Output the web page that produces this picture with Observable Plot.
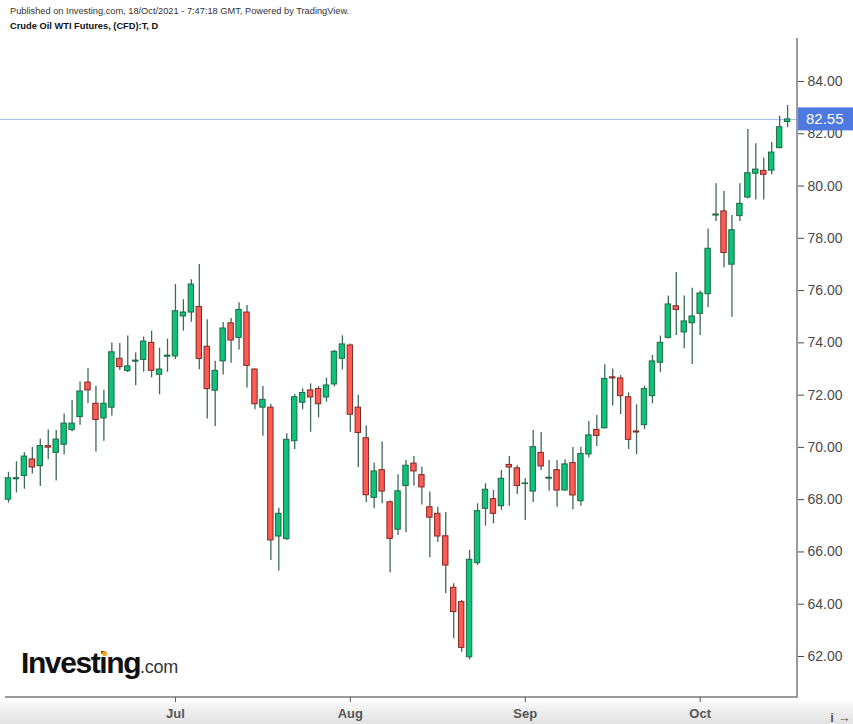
<!DOCTYPE html>
<html>
<head>
<meta charset="utf-8">
<script src="https://cdn.jsdelivr.net/npm/d3@7"></script>
<script src="https://cdn.jsdelivr.net/npm/@observablehq/plot@0.6"></script>
<style>
  html, body { margin: 0; padding: 0; }
  body {
    width: 853px; height: 724px; position: relative; overflow: hidden;
    background: linear-gradient(to bottom, #ffffff 0px, #ffffff 699px, #f3f3f3 706px, #e3e3e3 724px);
    font-family: "Liberation Sans", Arial, sans-serif;
  }
  #head { height: 38px; position: relative; }
  #pub { position: absolute; left: 10px; top: 6px; font-size: 9.25px; color: #333; white-space: nowrap; }
  #ttl { position: absolute; left: 10px; top: 21px; font-size: 9.3px; font-weight: bold; color: #111; white-space: nowrap; }
  #logo { position: absolute; left: 21px; top: 646px; white-space: nowrap; color: #111; }
  #logo .big { font-size: 30px; font-weight: 900; letter-spacing: -1.4px; }
  #logo .small { font-size: 18px; color: #333; letter-spacing: -0.3px; }
  #dot { position: absolute; left: 102px; top: 651px; width: 5px; height: 5px; border-radius: 50%; background: #f7a21b; }
  #chart svg { display: block; background: transparent; }
</style>
</head>
<body>
<div id="head">
  <div id="pub">Published on Investing.com, 18/Oct/2021 - 7:47:18 GMT, Powered by TradingView.</div>
  <div id="ttl">Crude Oil WTI Futures, (CFD):T, D</div>
</div>
<div id="chart"></div>
<div id="logo"><span class="big">Investing</span><span class="small">.com</span></div>
<div id="dot"></div>
<script>
const dates = [
  "2021-06-02","2021-06-03","2021-06-04","2021-06-07","2021-06-08","2021-06-09","2021-06-10","2021-06-11",
  "2021-06-14","2021-06-15","2021-06-16","2021-06-17","2021-06-18","2021-06-21","2021-06-22","2021-06-23",
  "2021-06-24","2021-06-25","2021-06-28","2021-06-29","2021-06-30",
  "2021-07-01","2021-07-02","2021-07-05","2021-07-06","2021-07-07","2021-07-08","2021-07-09","2021-07-12",
  "2021-07-13","2021-07-14","2021-07-15","2021-07-16","2021-07-19","2021-07-20","2021-07-21","2021-07-22",
  "2021-07-23","2021-07-26","2021-07-27","2021-07-28","2021-07-29","2021-07-30",
  "2021-08-02","2021-08-03","2021-08-04","2021-08-05","2021-08-06","2021-08-09","2021-08-10","2021-08-11",
  "2021-08-12","2021-08-13","2021-08-16","2021-08-17","2021-08-18","2021-08-19","2021-08-20","2021-08-23",
  "2021-08-24","2021-08-25","2021-08-26","2021-08-27","2021-08-30","2021-08-31",
  "2021-09-01","2021-09-02","2021-09-03","2021-09-06","2021-09-07","2021-09-08","2021-09-09","2021-09-10",
  "2021-09-13","2021-09-14","2021-09-15","2021-09-16","2021-09-17","2021-09-20","2021-09-21","2021-09-22",
  "2021-09-23","2021-09-24","2021-09-27","2021-09-28","2021-09-29","2021-09-30",
  "2021-10-01","2021-10-04","2021-10-05","2021-10-06","2021-10-07","2021-10-08","2021-10-11","2021-10-12",
  "2021-10-13","2021-10-14","2021-10-15","2021-10-18"
];
const open = [
  68.00,68.78,68.91,69.54,69.28,70.05,69.79,70.10,70.66,71.16,72.48,71.67,71.11,71.52,73.39,72.92,73.28,73.35,74.00,72.78,73.47,
  73.48,75.01,75.16,75.37,73.85,72.17,73.29,74.75,74.19,75.16,72.98,71.52,71.52,66.59,66.49,70.24,71.71,72.18,72.23,71.91,72.41,73.39,
  73.90,71.52,70.35,68.07,69.13,67.90,66.85,68.52,69.38,68.94,67.71,67.46,66.60,64.63,64.08,61.97,65.57,67.65,68.02,67.75,69.33,69.20,
  68.60,68.31,69.79,68.80,69.13,68.35,69.40,67.94,69.73,70.67,70.73,72.68,72.64,71.92,70.61,70.85,71.96,73.24,74.19,75.40,74.40,74.75,
  75.11,75.86,78.87,79.03,76.99,78.85,79.56,80.47,80.58,80.59,81.45,82.45
];
const high = [
  69.05,69.45,69.80,70.00,70.31,70.67,70.65,71.28,71.79,72.50,73.01,72.34,72.19,73.99,73.98,74.26,73.61,74.22,74.45,73.80,74.14,
  76.23,75.65,76.41,77.00,74.88,73.30,74.78,74.93,75.53,75.43,73.00,72.33,71.65,67.67,70.52,72.02,72.24,72.43,72.33,72.65,73.71,74.27,
  73.96,72.00,70.82,69.40,70.21,67.95,68.95,69.50,69.65,69.24,68.29,67.71,67.51,64.78,64.14,66.06,67.84,68.61,68.35,69.12,69.65,69.30,
  68.80,70.65,70.57,69.50,69.50,69.53,70.00,70.01,70.99,71.22,73.16,73.00,72.75,72.09,71.63,72.34,73.52,74.26,75.79,76.69,75.79,76.09,
  75.98,78.36,80.09,79.79,78.87,80.09,82.16,81.62,81.07,81.67,82.67,83.08
];
const low = [
  67.87,68.26,68.40,68.98,68.50,69.54,68.71,69.72,70.60,70.85,71.67,69.82,70.24,71.20,72.94,72.87,72.36,72.88,72.66,72.01,72.87,
  73.36,74.45,74.79,72.97,71.09,70.80,72.77,73.22,73.73,72.27,71.44,70.43,65.67,65.26,66.45,69.92,71.44,70.58,71.13,71.73,72.31,72.97,
  70.58,69.22,67.89,67.65,67.84,65.20,66.63,66.73,68.52,67.80,65.78,66.37,64.40,62.68,62.16,61.87,65.48,66.99,67.08,67.59,67.75,68.20,
  67.20,67.89,69.12,68.32,67.71,68.33,67.61,67.75,69.60,70.03,70.70,71.58,71.26,69.92,69.72,70.68,71.67,72.86,74.15,74.28,73.77,73.17,
  74.28,75.34,78.64,76.87,74.98,78.64,79.50,79.47,79.47,80.43,81.43,82.23
];
const close = [
  68.82,68.82,69.65,69.23,70.05,69.99,70.30,70.91,70.91,72.14,72.18,71.05,71.67,73.64,73.07,73.10,73.32,74.05,72.93,72.98,73.51,
  75.21,75.16,76.23,73.38,72.23,72.93,74.55,74.09,75.26,73.12,71.65,71.82,66.44,67.46,70.29,71.92,72.08,71.91,71.65,72.37,73.66,73.94,
  71.25,70.55,68.17,69.08,68.31,66.50,68.32,69.30,69.08,68.47,67.31,66.59,65.48,63.70,62.33,65.70,67.56,68.38,67.46,68.80,69.23,68.52,
  68.62,70.01,69.27,68.84,68.35,69.35,68.16,69.75,70.46,70.44,72.62,72.64,71.96,70.29,70.57,72.23,73.29,74.00,75.47,75.26,74.82,75.01,
  75.89,77.60,78.91,77.44,78.31,79.32,80.49,80.63,80.43,81.28,82.25,82.55
];
const yTicks = [62, 64, 66, 68, 70, 72, 74, 76, 78, 80, 82, 84];
const monthNames = ["Jan","Feb","Mar","Apr","May","Jun","Jul","Aug","Sep","Oct","Nov","Dec"];

const bars = dates.map((d, i) => ({
  i, date: d, open: open[i], high: high[i], low: low[i], close: close[i],
  up: close[i] >= open[i]
}));
const monthStarts = bars.filter((b, k) => k > 0 && b.date.slice(5, 7) !== bars[k - 1].date.slice(5, 7)).map(b => b.i);
const monthLabel = i => monthNames[+dates[i].slice(5, 7) - 1];
const last = bars[bars.length - 1];

const upFill = "#0fc27a", downFill = "#ff5b53";
const upStroke = "#1d6a45", downStroke = "#7d2b27";
const wick = "#3e6a56";

function axisLines(index, scales, values, dims) {
  const g = d3.create("svg:g");
  const xr = dims.width - dims.marginRight;
  const yb = dims.height - dims.marginBottom;
  g.append("line").attr("x1", xr).attr("x2", xr).attr("y1", dims.marginTop).attr("y2", yb + 0.5)
    .attr("stroke", "#7a7a7a").attr("stroke-width", 1.5);
  g.append("line").attr("x1", dims.marginLeft + 5).attr("x2", xr).attr("y1", yb).attr("y2", yb)
    .attr("stroke", "#7a7a7a").attr("stroke-width", 1.5);
  return g.node();
}

function priceLabel(index, scales, values, dims) {
  const g = d3.create("svg:g");
  const y = scales.y(last.close);
  const xr = dims.width - dims.marginRight;
  g.append("rect").attr("x", xr + 1).attr("y", y - 11.5).attr("width", dims.marginRight - 1).attr("height", 23)
    .attr("fill", "#4d79e0");
  g.append("text").attr("x", xr + 9).attr("y", y).attr("dy", "0.35em")
    .attr("text-anchor", "start")
    .attr("fill", "#fff").attr("font-size", 15).attr("font-family", "Liberation Sans, Arial, sans-serif")
    .text(last.close.toFixed(2));
  return g.node();
}

const chart = Plot.plot({
  width: 853,
  height: 686,
  marginTop: 0,
  marginBottom: 27,
  marginLeft: 0,
  marginRight: 56,
  style: { fontFamily: "Liberation Sans, Arial, sans-serif", background: "transparent", overflow: "visible" },
  x: { type: "linear", domain: [-1.006, 99.245] },
  y: { domain: [60.431, 85.645] },
  marks: [
    Plot.ruleY([last.close], { stroke: "#a3bbeb", strokeWidth: 1 }),
    Plot.ruleX(bars, { x: "i", y1: "low", y2: "high", stroke: wick, strokeWidth: 1.3 }),
    Plot.rect(bars, {
      x1: d => d.i - 0.34, x2: d => d.i + 0.34,
      y1: "open", y2: "close",
      fill: d => d.up ? upFill : downFill,
      stroke: d => d.up ? upStroke : downStroke,
      strokeWidth: 1
    }),
    axisLines,
    Plot.axisY({ anchor: "right", ticks: yTicks, tickFormat: d => d.toFixed(2), tickSize: 6, tickPadding: 4, fontSize: 14, color: "#4a4a4a" }),
    Plot.axisX({ ticks: monthStarts, tickFormat: monthLabel, tickSize: 5, tickPadding: 6, fontSize: 13, fontWeight: "bold", color: "#555" }),
    priceLabel
  ]
});
document.getElementById("chart").appendChild(chart);
</script>
</body>
</html>
